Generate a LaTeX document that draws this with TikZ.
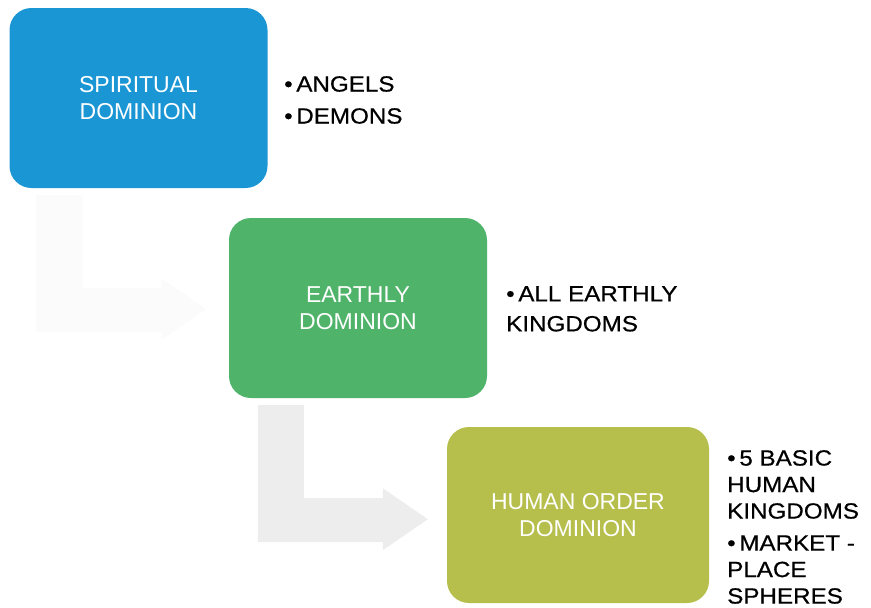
\documentclass[tikz,border=0pt]{standalone}
\usepackage{fontspec}
\setmainfont{Liberation Sans}
\newfontfamily\listfont[FakeStretch=1.1, FakeBold=0.6]{Liberation Sans}
\usetikzlibrary{calc}

\definecolor{spiritblue}{RGB}{27,150,212}
\definecolor{earthgreen}{RGB}{80,179,106}
\definecolor{humanolive}{RGB}{182,190,76}

\tikzset{
    domainbox/.style={rounded corners=22pt, minimum width=258pt, minimum height=180pt,
                      inner sep=0pt, text=white, align=center, font=\fontsize{23}{27.5}\selectfont},
    itemlist/.style={anchor=north west, inner sep=0pt, align=left, text=black},
}

% bent block arrow, #1 = top left corner of the shaft, #2 = colour
\newcommand{\bentarrow}[2]{%
    \fill[#2] (#1) -- ++(46, 0) -- ++(0, 93) -- ++(79, 0) -- ++(0, -10)
              -- ++(45, 31) -- ++(-45, 31) -- ++(0, -8) -- ++(-125, 0) -- cycle;}

\begin{document}
\begin{tikzpicture}[x=1pt, y=-1pt]
        \useasboundingbox (0, 0) rectangle (871, 608);

        % Boxes:
        \node[domainbox, fill=spiritblue] (spirit) at (138.5, 98) {SPIRITUAL\\DOMINION};
        \node[domainbox, fill=earthgreen] (earth) at (358, 308) {EARTHLY\\DOMINION};
        \node[domainbox, fill=humanolive, minimum width=262pt, minimum height=176pt] (human) at (578, 515) {HUMAN ORDER\\DOMINION};

        % Arrows:
        \coordinate (spiritfoot) at ($(spirit.south west) + (27, 7)$);
        \coordinate (earthfoot) at ($(earth.south west) + (29, 7)$);
        \bentarrow{spiritfoot}{black!1.5}
        \bentarrow{earthfoot}{black!7}

        % Lists:
        \node[itemlist, font=\listfont\fontsize{22}{32}\selectfont] (spiritlist) at (284, 76)
            {\textbullet\,ANGELS\\\textbullet\,DEMONS};
        \node[itemlist, font=\listfont\fontsize{22}{30}\selectfont] (earthlist) at (506, 286)
            {\textbullet\,ALL EARTHLY\\KINGDOMS};
        \node[itemlist, font=\listfont\fontsize{22}{26.5}\selectfont] (humanlist) at (727, 450)
            {\textbullet\,5 BASIC\\HUMAN\\KINGDOMS\\[5.5pt]\textbullet\,MARKET -\\PLACE\\SPHERES};
    \end{tikzpicture}
\end{document}
